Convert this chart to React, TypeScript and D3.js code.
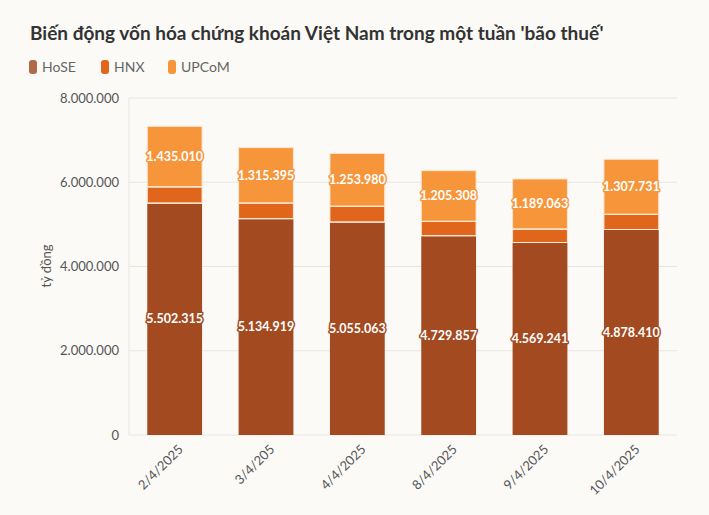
import { useEffect, useRef } from "react";
import * as d3 from "d3";

const dates = ["2/4/2025", "3/4/205", "4/4/2025", "8/4/2025", "9/4/2025", "10/4/2025"];
const hose = [5502315, 5134919, 5055063, 4729857, 4569241, 4878410];
const hnx = [390000, 372000, 375000, 340000, 320000, 360000];
const upcom = [1435010, 1315395, 1253980, 1205308, 1189063, 1307731];
const yTicks = [0, 2000000, 4000000, 6000000, 8000000];

const seriesNames = ["HoSE", "HNX", "UPCoM"];
const colors = ["#a34a21", "#e0661c", "#f7953a"];
const legendColors = ["#b06a48", "#e0661c", "#f7953a"];

const W = 709;
const H = 515;
const FONT = "Lato, 'Noto Sans', sans-serif";

export default function App() {
  const svgRef = useRef<SVGSVGElement>(null);

  useEffect(() => {
    const svg = d3.select(svgRef.current);
    svg.selectAll("*").remove();

    const vn = d3.formatLocale({ decimal: ",", thousands: ".", grouping: [3], currency: ["", ""] });
    const fmt = vn.format(",d");

    const left = 129, right = 677, top = 98, bottom = 435;

    const x = d3.scaleBand<string>().domain(dates).range([left, right]).paddingInner(0.4).paddingOuter(0.2);
    const y = d3.scaleLinear().domain([0, 8000000]).range([bottom, top]);

    svg.append("rect").attr("width", W).attr("height", H).attr("fill", "#fbfaf7");

    // title
    svg.append("text")
      .attr("x", 30).attr("y", 40)
      .attr("font-family", FONT).attr("font-weight", 700).attr("font-size", 19)
      .attr("fill", "#333")
      .text("Biến động vốn hóa chứng khoán Việt Nam trong một tuần 'bão thuế'");

    // legend
    const legendX = [29, 101, 168];
    const lg = svg.append("g");
    seriesNames.forEach((name, i) => {
      lg.append("rect").attr("x", legendX[i]).attr("y", 60).attr("width", 8).attr("height", 14)
        .attr("rx", 3).attr("fill", legendColors[i]);
      lg.append("text").attr("x", legendX[i] + 13).attr("y", 72)
        .attr("font-family", FONT).attr("font-size", 14).attr("fill", "#666").text(name);
    });

    // grid
    svg.append("g").selectAll("line").data(yTicks).join("line")
      .attr("x1", left).attr("x2", right)
      .attr("y1", (d) => y(d)).attr("y2", (d) => y(d))
      .attr("stroke", "#e9e6e0").attr("stroke-width", 1);
    svg.append("line").attr("x1", left).attr("x2", left).attr("y1", top).attr("y2", bottom)
      .attr("stroke", "#e9e6e0");

    // y axis labels
    svg.append("g").selectAll("text").data(yTicks).join("text")
      .attr("x", 119).attr("y", (d) => y(d)).attr("dy", "0.35em")
      .attr("text-anchor", "end").attr("font-family", FONT).attr("font-size", 13)
      .attr("fill", "#555").text((d) => fmt(d));

    svg.append("text")
      .attr("transform", `translate(51,266) rotate(-90)`)
      .attr("text-anchor", "middle").attr("font-family", FONT).attr("font-size", 13)
      .attr("fill", "#555").text("tỷ đồng");

    // stacked bars
    const table = dates.map((d, i) => ({ date: d, HoSE: hose[i], HNX: hnx[i], UPCoM: upcom[i] }));
    const stacked = d3.stack<any>().keys(seriesNames)(table);

    stacked.forEach((layer, si) => {
      svg.append("g").selectAll("rect").data(layer).join("rect")
        .attr("x", (d: any) => x(d.data.date)!)
        .attr("width", x.bandwidth())
        .attr("y", (d: any) => y(d[1]))
        .attr("height", (d: any) => y(d[0]) - y(d[1]))
        .attr("fill", colors[si])
        .attr("stroke", "#fbe6d2").attr("stroke-width", si === 0 ? 0 : 1);
    });
    // separators between segments
    stacked.slice(0, 2).forEach((layer) => {
      svg.append("g").selectAll("line").data(layer).join("line")
        .attr("x1", (d: any) => x(d.data.date)!)
        .attr("x2", (d: any) => x(d.data.date)! + x.bandwidth())
        .attr("y1", (d: any) => y(d[1])).attr("y2", (d: any) => y(d[1]))
        .attr("stroke", "#fde8d3").attr("stroke-width", 1.2);
    });

    // value labels for HoSE and UPCoM
    [0, 2].forEach((si) => {
      svg.append("g").selectAll("text").data(stacked[si]).join("text")
        .attr("x", (d: any) => x(d.data.date)! + x.bandwidth() / 2)
        .attr("y", (d: any) => y((d[0] + d[1]) / 2))
        .attr("dy", "0.35em")
        .attr("text-anchor", "middle")
        .attr("font-family", FONT).attr("font-weight", 700).attr("font-size", 12.5)
        .attr("fill", "#fff")
        .attr("stroke", colors[si]).attr("stroke-width", 3).attr("stroke-linejoin", "round")
        .attr("paint-order", "stroke")
        .text((d: any) => fmt(d[1] - d[0]));
    });

    // x labels
    svg.append("g").selectAll("text").data(dates).join("text")
      .attr("transform", (d) => `translate(${x(d)! + x.bandwidth() / 2 + 6},${bottom + 12}) rotate(-45)`)
      .attr("text-anchor", "end").attr("dy", "0.35em")
      .attr("font-family", FONT).attr("font-size", 13).attr("fill", "#555")
      .text((d) => d);
  }, []);

  return (
    <svg ref={svgRef} width={W} height={H}
      style={{ position: "absolute", left: 0, top: 0, display: "block" }} />
  );
}
